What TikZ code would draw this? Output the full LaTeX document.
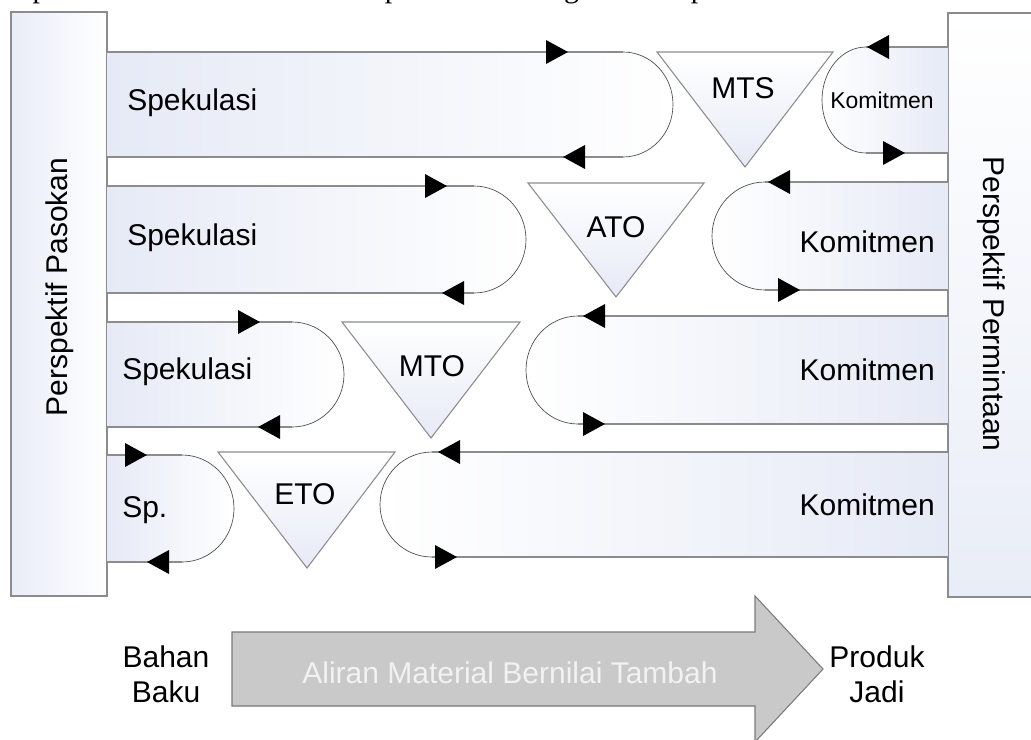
\documentclass[tikz,border=0pt]{standalone}
\usepackage{fontspec}
\setmainfont{Liberation Sans}
\newfontfamily\topserif{Liberation Serif}
\definecolor{bandblue}{HTML}{E6EAF6}
\definecolor{boxblue}{HTML}{E9EDF7}
\definecolor{lineg}{HTML}{8C8C8C}
\definecolor{arcg}{HTML}{4A4A4A}
\definecolor{bigfill}{HTML}{C9C9C9}
\definecolor{bigline}{HTML}{7A7A7A}
\definecolor{bigtext}{HTML}{F2F2F2}

\tikzset{
  hline/.style={draw=lineg, line width=0.9pt},
  arcline/.style={draw=arcg, line width=0.5pt},
  lbl/.style={font=\fontsize{22.5}{27}\selectfont, inner sep=0pt},
  smalllbl/.style={font=\fontsize{17.2}{20}\selectfont, inner sep=0pt},
  tribox/.style={draw=lineg, line width=0.8pt, top color=white, bottom color=bandblue},
  arrR/.pic={\fill[black] (0,0) -- (-22,-12) -- (-22,12) -- cycle;},
  arrL/.pic={\fill[black] (0,0) -- (22,-12) -- (22,12) -- cycle;}
}

% left band: #1 top y, #2 bottom y, #3 arc start x, #4 x radius
\newcommand\leftband[4]{%
  \pgfmathsetmacro\bandM{(#1+#2)/2}\pgfmathsetmacro\bandR{(#2-#1)/2}%
  \pgfmathsetmacro\bandA{#3+0.5523*#4}\pgfmathsetmacro\bandB{#3+#4}%
  \pgfmathsetmacro\bandC{\bandM-0.5523*\bandR}\pgfmathsetmacro\bandD{\bandM+0.5523*\bandR}%
  \shade[left color=bandblue, right color=white] (107,#1) -- (#3,#1) .. controls (\bandA,#1) and (\bandB,\bandC) .. (\bandB,\bandM) .. controls (\bandB,\bandD) and (\bandA,#2) .. (#3,#2) -- (107,#2) -- cycle;
  \draw[hline] (107,#1) -- (#3,#1);
  \draw[hline] (107,#2) -- (#3,#2);
  \draw[arcline] (#3,#1) .. controls (\bandA,#1) and (\bandB,\bandC) .. (\bandB,\bandM) .. controls (\bandB,\bandD) and (\bandA,#2) .. (#3,#2);
}
% right band
\newcommand\rightband[4]{%
  \pgfmathsetmacro\bandM{(#1+#2)/2}\pgfmathsetmacro\bandR{(#2-#1)/2}%
  \pgfmathsetmacro\bandA{#3-0.5523*#4}\pgfmathsetmacro\bandB{#3-#4}%
  \pgfmathsetmacro\bandC{\bandM-0.5523*\bandR}\pgfmathsetmacro\bandD{\bandM+0.5523*\bandR}%
  \shade[left color=white, right color=bandblue] (948,#1) -- (#3,#1) .. controls (\bandA,#1) and (\bandB,\bandC) .. (\bandB,\bandM) .. controls (\bandB,\bandD) and (\bandA,#2) .. (#3,#2) -- (948,#2) -- cycle;
  \draw[hline] (948,#1) -- (#3,#1);
  \draw[hline] (948,#2) -- (#3,#2);
  \draw[arcline] (#3,#1) .. controls (\bandA,#1) and (\bandB,\bandC) .. (\bandB,\bandM) .. controls (\bandB,\bandD) and (\bandA,#2) .. (#3,#2);
}

\begin{document}
\begin{tikzpicture}[x=0.75pt, y=-0.75pt]
\useasboundingbox (0,0) rectangle (1031,739);

% clipped line of running text at the top (only its lowest part shows)
\begin{scope}
\clip (0,0) rectangle (1031,739);
\node[anchor=base west, inner sep=0pt, font=\fontsize{22.5}{27}\topserif] (toptext) at (4,-3) {dapatkan antara titik acuan dan pemisahan dengan aliran produksi};
\end{scope}

% side boxes
\shadedraw[left color=boxblue, right color=white, draw=lineg, line width=0.9pt] (11,12) rectangle (107,596);
\shadedraw[top color=white, bottom color=boxblue, draw=lineg, line width=0.9pt] (948,13) rectangle (1040,597);
\node[lbl, rotate=90] (supply) at (60,287) {Perspektif Pasokan};
\node[lbl, rotate=-90] (demand) at (991,304) {Perspektif Permintaan};

% left (speculation) bands
\leftband{52}{157}{623}{50}
\leftband{186}{293}{474}{52}
\leftband{322}{427}{292}{52}
\leftband{455}{562}{182}{52}

% right (commitment) bands
\rightband{47}{153}{866}{44}
\rightband{182}{290}{765}{53}
\rightband{316}{424}{578}{52}
\rightband{452}{557}{432}{52}

% triangles (decoupling points)
\shadedraw[tribox] (657,52) -- (833,52) -- (745,167) -- cycle;
\shadedraw[tribox] (528,183) -- (704,183) -- (616,297) -- cycle;
\shadedraw[tribox] (342,322) -- (520,322) -- (431,438) -- cycle;
\shadedraw[tribox] (218,452) -- (395,452) -- (307,568) -- cycle;
\node[lbl] (mts) at (743,88) {MTS};
\node[lbl] (ato) at (616,227) {ATO};
\node[lbl] (mto) at (432,366) {MTO};
\node[lbl] (eto) at (305,494) {ETO};

% arrowheads, left bands
\pic at (568,52) {arrR};
\pic at (563,157) {arrL};
\pic at (447,186) {arrR};
\pic at (442,293) {arrL};
\pic at (260,322) {arrR};
\pic at (258,427) {arrL};
\pic at (147,455) {arrR};
\pic at (147,562) {arrL};
% arrowheads, right bands
\pic at (867,47) {arrL};
\pic at (905,153) {arrR};
\pic at (768,182) {arrL};
\pic at (800,290) {arrR};
\pic at (583,316) {arrL};
\pic at (605,424) {arrR};
\pic at (438,452) {arrL};
\pic at (457,557) {arrR};

% band labels
\node[lbl, anchor=west] (sp1) at (127,103) {Spekulasi};
\node[lbl, anchor=west] (sp2) at (127,238) {Spekulasi};
\node[lbl, anchor=west] (sp3) at (122,372) {Spekulasi};
\node[lbl, anchor=west] (sp4) at (122,510) {Sp.};
\node[smalllbl] (km1) at (882,100) {Komitmen};
\node[lbl, anchor=east] (km2) at (935,242) {Komitmen};
\node[lbl, anchor=east] (km3) at (935,370) {Komitmen};
\node[lbl, anchor=east] (km4) at (935,505) {Komitmen};

% bottom value-added flow arrow
\draw[fill=bigfill, draw=bigline, line width=0.8pt] (232,632) -- (755,632) -- (755,596) -- (823,669) -- (755,742) -- (755,706) -- (232,706) -- cycle;
\node[lbl, text=bigtext] (flow) at (510,673) {Aliran Material Bernilai Tambah};
\node[lbl, align=center] (raw) at (166,674) {Bahan\\[-1pt]Baku};
\node[lbl, align=center] (fin) at (877,674) {Produk\\[-1pt]Jadi};
\end{tikzpicture}
\end{document}
